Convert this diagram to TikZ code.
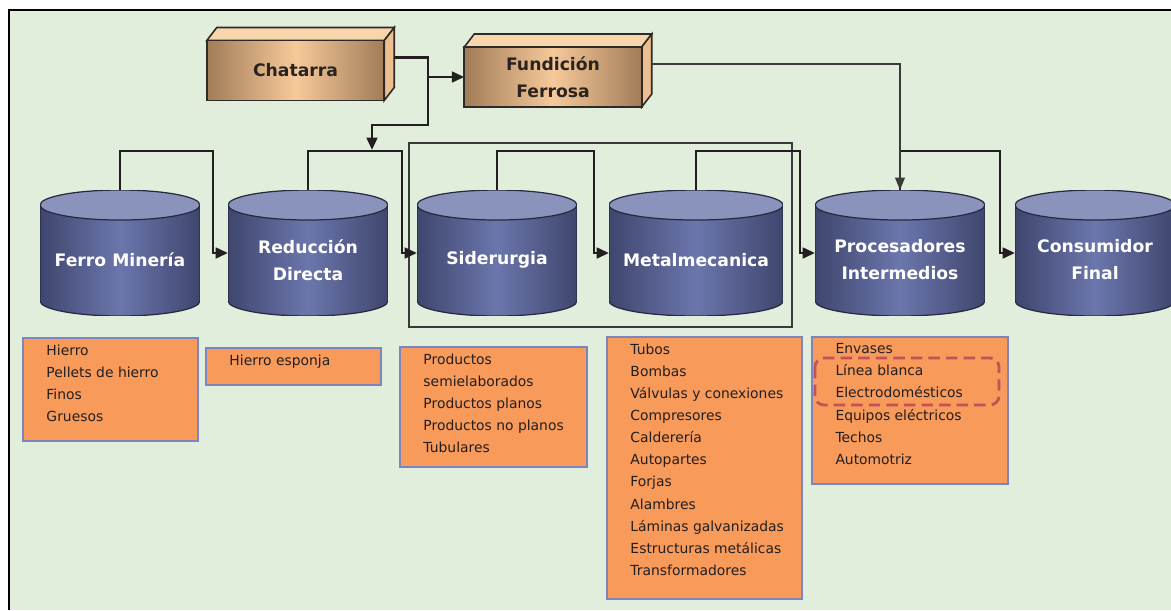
\documentclass[tikz,border=0pt]{standalone}
\usepackage{fontspec}
\setmainfont{DejaVu Sans}
\usepackage{tikz}
\usetikzlibrary{arrows.meta,positioning,calc}

\definecolor{bgcol}{HTML}{E2EEDC}
\definecolor{boxdk}{HTML}{A27C58}
\definecolor{boxlt}{HTML}{F6C99A}
\definecolor{boxtop}{HTML}{F8D5AA}
\definecolor{boxside}{HTML}{EDBE8F}
\definecolor{boxline}{HTML}{2E2A28}
\definecolor{boxtext}{HTML}{2A2420}
\definecolor{drumdk}{HTML}{3F466E}
\definecolor{drumlt}{HTML}{6B76AC}
\definecolor{drumtop}{HTML}{8A93BB}
\definecolor{drumline}{HTML}{262A40}
\definecolor{listfill}{HTML}{F79A5A}
\definecolor{listline}{HTML}{7D85C0}
\definecolor{hilitecol}{HTML}{C3505A}
\definecolor{flowcol}{HTML}{231F20}
\definecolor{grpcol}{HTML}{3A3A3A}

\newcommand{\itemlist}[3]{\parbox[c][#2][t]{#1}{\raggedright\leftskip=0.47cm #3}}

\begin{document}
\begin{tikzpicture}[
    x=0.02cm, y=-0.02cm,
    drum/.style={rectangle, inner sep=0pt, outer sep=0pt, minimum width=2*#1, minimum height=2.52cm,
      path picture={
        \shade[left color=drumdk, right color=drumdk, middle color=drumlt, draw=drumline, line width=0.7pt]
          ([yshift=-0.3cm]path picture bounding box.north west) -- ([yshift=0.3cm]path picture bounding box.south west)
          arc[start angle=180, end angle=360, x radius=#1, y radius=0.3cm]
          -- ([yshift=-0.3cm]path picture bounding box.north east) -- cycle;
        \filldraw[fill=drumtop, draw=drumline, line width=0.7pt]
          ([yshift=-0.3cm]path picture bounding box.north) ellipse [x radius=#1, y radius=0.3cm];
      }},
    dtext/.style={text=white, font=\bfseries\fontsize{9.8}{15.4}\selectfont, align=center, yshift=-0.14cm},
    block/.style={rectangle, draw=boxline, line width=0.9pt, outer sep=0pt,
      left color=boxdk, right color=boxdk, middle color=boxlt,
      minimum width=3.55cm, minimum height=1.2cm, text=boxtext,
      font=\bfseries\fontsize{9.8}{15.6}\selectfont, align=center,
      append after command={\pgfextra{
        \filldraw[fill=boxtop, draw=boxline, line width=0.9pt] (\tikzlastnode.north west) -- ++(10,-13)
          -- ([shift={(10,-13)}]\tikzlastnode.north east) -- (\tikzlastnode.north east) -- cycle;
        \filldraw[fill=boxside, draw=boxline, line width=0.9pt] (\tikzlastnode.north east) -- ++(10,-13)
          -- ([shift={(10,-13)}]\tikzlastnode.south east) -- (\tikzlastnode.south east) -- cycle;
      }}},
    listbox/.style={draw=listline, line width=0.9pt, fill=listfill, anchor=north west,
      inner xsep=0pt, inner ysep=0.13cm, outer sep=0pt,
      font=\fontsize{7.9}{12.6}\selectfont, text=flowcol},
    flow/.style={draw=flowcol, line width=1.6pt, -{Triangle[length=7pt, width=6pt]}},
    feed/.style={draw=grpcol, line width=0.9pt, -{Triangle[length=7pt, width=5.5pt]}},
    grp/.style={draw=grpcol, line width=0.9pt},
    hilite/.style={draw=hilitecol, line width=1.6pt, dash pattern=on 6.5pt off 3.5pt, rounded corners=0.18cm}
  ]
  % frame
  \useasboundingbox (0,0) rectangle (1171,610);
  \fill[white] (0,0) rectangle (1171,610);
  \fill[bgcol] (9,10) rectangle (1171,610);
  \draw[line width=1.2pt] (9,610) -- (9,10) -- (1171,10);

  % top boxes
  \node[block] (chat) at (295.5,70.5) {Chatarra};
  \node[block] (fund) at (553,77) {Fundición\\Ferrosa};

  % cylinders
  \node[drum=1.6cm,  label={[dtext]center:Ferro Minería}] (fm) at (120,253) {};
  \node[drum=1.6cm,  label={[dtext]center:{Reducción\\Directa}}] (rd) at (308,253) {};
  \node[drum=1.6cm,  label={[dtext]center:Siderurgia}] (sid) at (497,253) {};
  \node[drum=1.74cm, label={[dtext]center:Metalmecanica}] (met) at (696,253) {};
  \node[drum=1.7cm,  label={[dtext]center:{Procesadores\\Intermedios}}] (proc) at (900,253) {};
  \node[drum=1.6cm,  label={[dtext]center:{Consumidor\\Final}}] (cons) at (1095,253) {};

  \draw[grp] (409,143) rectangle (792,327);

  % flows
  \draw[flow] (fm.north) -- ++(0,-39) -| ([xshift=-0.3cm]rd.west) -- (rd.west);
  \draw[flow] (rd.north) -- ++(0,-39) -| ([xshift=-0.3cm]sid.west) -- (sid.west);
  \draw[flow] (sid.north) -- ++(0,-39) -| ([xshift=-0.3cm]met.west) -- (met.west);
  \draw[flow] (met.north) -- ++(0,-39) -| ([xshift=-0.3cm]proc.west) -- (proc.west);
  \draw[flow] (proc.north) -- ++(0,-39) -| ([xshift=-0.3cm]cons.west) -- (cons.west);

  \coordinate (split) at (428,77);
  \coordinate (merge) at (372,150);
  \draw[flow] ([shift={(10,-13)}]chat.east) -| (split) -- ++(0,48) -| (merge);
  \draw[flow] (split) -- (fund.west);
  \draw[feed] ([shift={(10,-13)}]fund.east) -| (proc.north);

  % product lists
  \node[listbox] (fmlist) at (23,338) {\itemlist{3.5cm}{1.8cm}{Hierro\\Pellets de hierro\\Finos\\Gruesos}};
  \node[listbox] (rdlist) at (206,348) {\itemlist{3.5cm}{0.48cm}{Hierro esponja}};
  \node[listbox] (sidlist) at (400,347) {\itemlist{3.74cm}{2.14cm}{Productos\\semielaborados\\Productos planos\\Productos no planos\\Tubulares}};
  \node[listbox] (metlist) at (607,337) {\itemlist{3.9cm}{4.98cm}{Tubos\\Bombas\\Válvulas y conexiones\\Compresores\\Calderería\\Autopartes\\Forjas\\Alambres\\Láminas galvanizadas\\Estructuras metálicas\\Transformadores}};
  \node[listbox] (proclist) at (812,337) {\itemlist{3.92cm}{2.68cm}{Envases\\Línea blanca\\Electrodomésticos\\Equipos eléctricos\\Techos\\Automotriz}};
  \draw[hilite] (815,358) rectangle (999,405);
\end{tikzpicture}
\end{document}
